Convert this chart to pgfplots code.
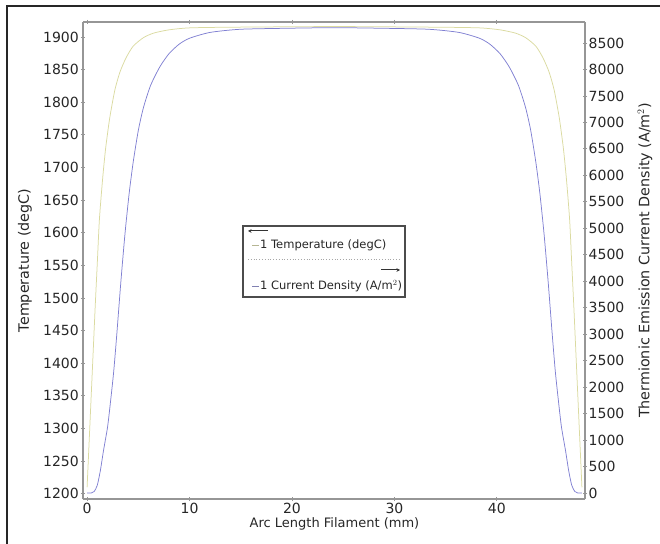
\documentclass[border=0pt]{standalone}
\usepackage{pgfplots}
\pgfplotsset{compat=1.18}
\usepackage{fontspec}
\setmainfont{DejaVu Sans}
\usetikzlibrary{arrows.meta}

\definecolor{tempcol}{RGB}{218,218,160}
\definecolor{curcol}{RGB}{128,128,210}
\definecolor{axcol}{RGB}{150,150,150}

\newcommand{\tickfont}{\fontsize{14bp}{16bp}\selectfont}
\newcommand{\yfont}{\fontsize{14.3bp}{16bp}\selectfont}
\newcommand{\xfont}{\fontsize{13bp}{15bp}\selectfont}
\newcommand{\legfont}{\fontsize{11.5bp}{14bp}\selectfont}

% temperature along the filament (mm, degC)
\pgfplotstableread{
x T
0.0 1210
0.2 1280
0.4 1350
0.6 1420
0.8 1490
1.0 1555
1.2 1620
1.5 1680
1.8 1728
2.2 1775
2.7 1818
3.2 1846
3.8 1868
4.5 1886
5.5 1899
6.5 1906
8.0 1911
10.0 1914
14.0 1915
24.15 1916
34.3 1915
38.3 1914
40.3 1911
41.8 1906
42.8 1899
43.8 1886
44.5 1868
45.1 1846
45.6 1818
46.1 1775
46.5 1728
46.8 1680
47.1 1620
47.3 1555
47.5 1490
47.7 1420
47.9 1350
48.1 1280
48.3 1210
}\temptable

% thermionic emission current density (mm, A/m^2)
\pgfplotstableread{
x J
0.0 0
0.4 0
0.7 30
1.0 150
1.3 430
1.6 800
2.0 1250
2.3 1750
2.6 2300
2.9 3000
3.3 4000
3.7 4900
4.1 5650
4.5 6250
5.0 6850
5.5 7280
6.2 7700
7.1 8050
8.0 8300
9.0 8480
10.0 8590
12.0 8700
15.0 8760
20.0 8780
24.15 8790
28.3 8780
33.3 8760
36.3 8700
38.3 8590
39.3 8480
40.3 8300
41.2 8050
42.1 7700
42.8 7280
43.3 6850
43.8 6250
44.2 5650
44.6 4900
45.0 4000
45.4 3000
45.7 2300
46.0 1750
46.3 1250
46.7 800
47.0 430
47.3 150
47.6 30
47.9 0
48.3 0
}\curtable

\pgfplotsset{
  common/.style={
    scale only axis,
    width=502bp, height=477bp,
    at={(83bp,45bp)}, anchor=south west,
    xmin=-0.4, xmax=48.6,
    axis line style={axcol, line width=1.6bp},
    tick style={axcol, line width=0.8bp},
    major tick length=4bp,
    tick align=center,
    tick label style={font=\tickfont, text=black!85},
    /pgf/number format/1000 sep={},
    /pgf/number format/assume math mode=true,
  },
}

\begin{document}
\begin{tikzpicture}
\useasboundingbox (0,0) rectangle (660bp,544bp);
\draw[black!85, line width=1.3bp] (7bp,0bp) -- (7bp,538bp) -- (660bp,538bp);

\begin{axis}[common,
  ymin=1192, ymax=1923,
  ytick={1200,1250,...,1900},
  xtick={0,10,...,40},
  xtick pos=both, xticklabel pos=bottom,
  ytick pos=left,
  axis x line*=box, axis y line*=left,
  xticklabel style={inner sep=1.5bp},
  yticklabel style={inner sep=2bp},
  xlabel={Arc Length Filament (mm)},
  ylabel={Temperature (degC)},
  xlabel style={font=\xfont, text=black!85, at={(axis description cs:0.501,-0.052)}, anchor=center},
  ylabel style={font=\yfont, text=black!85, at={(axis description cs:-0.1155,0.5)}, anchor=center},
]
\addplot[tempcol, line width=0.75bp, smooth, tension=0.4] table[x=x, y=T] {\temptable};
\end{axis}

\begin{axis}[common,
  ymin=-113, ymax=8897,
  ytick={0,500,...,8500},
  axis x line=none,
  axis y line*=right,
  yticklabel style={inner sep=1.5bp},
  ylabel={Thermionic Emission Current Density (A/m$^2$)},
  ylabel style={font=\yfont, text=black!85, at={(axis description cs:1.1195,0.5)}, anchor=center},
]
\addplot[curcol, line width=0.75bp, smooth, tension=0.4] table[x=x, y=J] {\curtable};
\end{axis}

% legend
\draw[black!70, line width=1.2bp, fill=white] (243bp,247bp) rectangle (405bp,318bp);
\draw[black!80, line width=1bp, -{Stealth[length=3.5bp,width=3.5bp]}] (268bp,313bp) -- (248bp,313bp);
\draw[tempcol!60!gray, line width=0.8bp] (252bp,299bp) -- (259bp,299bp);
\node[anchor=west, font=\legfont, text=black!85, inner sep=0pt] at (260bp,299bp) {1 Temperature (degC)};
\draw[black!35, line width=0.8bp, dotted] (248bp,285bp) -- (400bp,285bp);
\draw[black!80, line width=1bp, -{Stealth[length=3.5bp,width=3.5bp]}] (381bp,274bp) -- (400bp,274bp);
\draw[curcol!60!gray, line width=0.8bp] (252bp,258bp) -- (259bp,258bp);
\node[anchor=west, font=\legfont, text=black!85, inner sep=0pt] at (260bp,258bp) {1 Current Density (A/m$^2$)};
\end{tikzpicture}
\end{document}
